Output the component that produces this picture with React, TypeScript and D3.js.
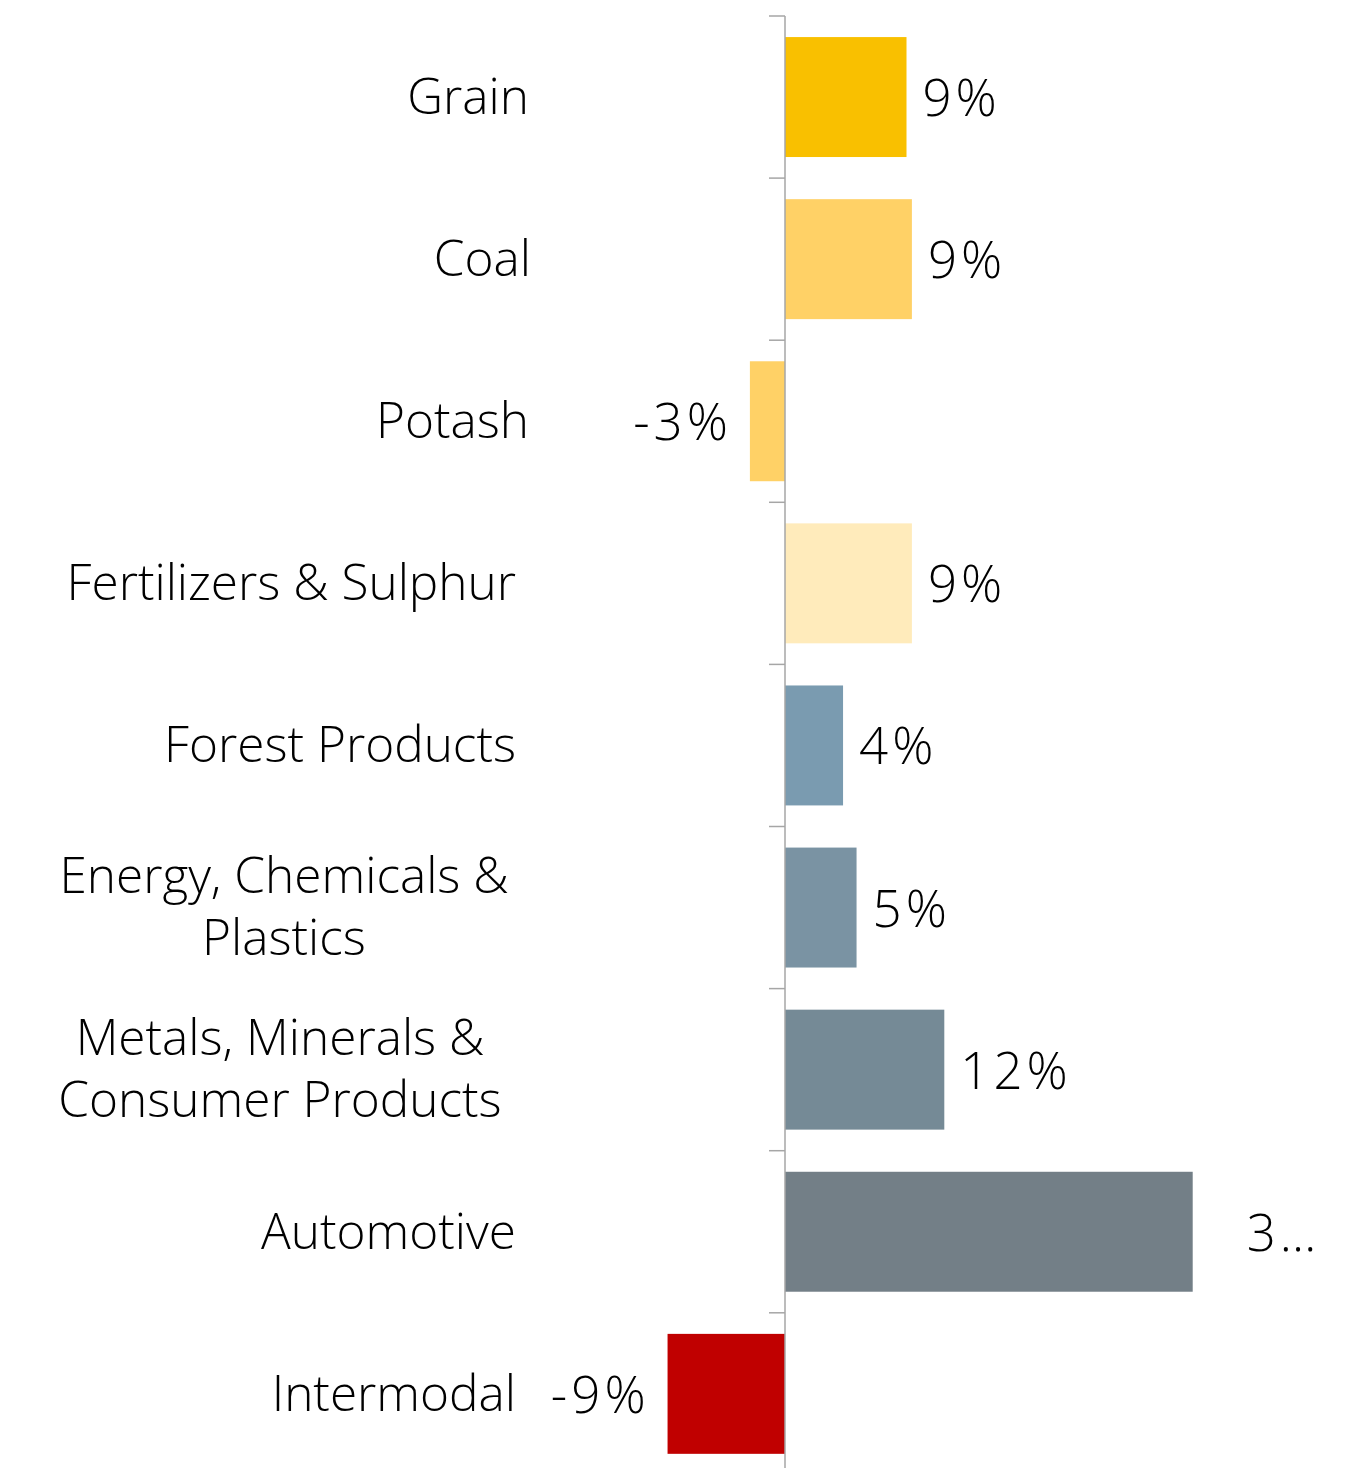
import React from "react";
import * as d3 from "d3";

const categories = [
  "Grain",
  "Coal",
  "Potash",
  "Fertilizers & Sulphur",
  "Forest Products",
  "Energy, Chemicals & Plastics",
  "Metals, Minerals & Consumer Products",
  "Automotive",
  "Intermodal",
];
const categoryLines = [
  ["Grain"],
  ["Coal"],
  ["Potash"],
  ["Fertilizers & Sulphur"],
  ["Forest Products"],
  ["Energy, Chemicals &", "Plastics"],
  ["Metals, Minerals &", "Consumer Products"],
  ["Automotive"],
  ["Intermodal"],
];
const values = [9.0, 9.4, -2.6, 9.4, 4.3, 5.3, 11.8, 30.2, -8.7];
const valueLabels = ["9%", "9%", "-3%", "9%", "4%", "5%", "12%", "3…", "-9%"];
const colors = [
  "#F9C000",
  "#FFD166",
  "#FFD166",
  "#FFEBBB",
  "#7A9BB0",
  "#7A93A3",
  "#758A96",
  "#737F87",
  "#C00000",
];

// layout only
const W = 1358;
const H = 1468;
const AXIS_X = 785;
const PX_PER_UNIT = 13.5;
const TOP = 16;
const STEP = 162.1;
const labelAnchor: { x: number; anchor: "end" | "middle" }[] = [
  { x: 529, anchor: "end" },
  { x: 531, anchor: "end" },
  { x: 529, anchor: "end" },
  { x: 516, anchor: "end" },
  { x: 516, anchor: "end" },
  { x: 284, anchor: "middle" },
  { x: 280, anchor: "middle" },
  { x: 516, anchor: "end" },
  { x: 516, anchor: "end" },
];

export default function App() {
  const x = d3
    .scaleLinear()
    .domain([-10, 35])
    .range([AXIS_X - 10 * PX_PER_UNIT, AXIS_X + 35 * PX_PER_UNIT]);
  const y = d3
    .scaleBand<string>()
    .domain(categories)
    .range([TOP, TOP + STEP * categories.length])
    .paddingInner(0.26)
    .paddingOuter(0.13);
  const step = y.step();
  const font = "'Open Sans', 'Noto Sans', sans-serif";
  const LS = 4;

  return (
    <svg
      width={W}
      height={H}
      style={{ position: "absolute", left: 0, top: 0, background: "#fff" }}
      fontFamily={font}
      fontWeight={300}
    >
      {categories.map((c, i) => {
        const v = values[i];
        const y0 = y(c)!;
        const bw = y.bandwidth();
        const cy = y0 + bw / 2;
        const x0 = x(Math.min(0, v));
        const x1 = x(Math.max(0, v));
        const overflow = v > 25;
        const lx = v >= 0 ? x1 + (overflow ? 54 : 16) : x0 - 22 + LS;
        const lines = categoryLines[i];
        const la = labelAnchor[i];
        return (
          <g key={c}>
            <rect x={x0} y={y0} width={x1 - x0} height={bw} fill={colors[i]} />
            <text
              x={lx}
              y={cy + 19}
              fontSize={51}
              fill="#000"
              textAnchor={v >= 0 ? "start" : "end"}
              letterSpacing={LS}
            >
              {valueLabels[i]}
            </text>
            {lines.length === 1 ? (
              <text x={la.x} y={cy + 17} fontSize={49.5} textAnchor={la.anchor} fill="#000">
                {lines[0]}
              </text>
            ) : (
              lines.map((ln, k) => (
                <text
                  key={k}
                  x={la.x}
                  y={cy - 15 + k * 62}
                  fontSize={49.5}
                  textAnchor={la.anchor}
                  fill="#000"
                >
                  {ln}
                </text>
              ))
            )}
          </g>
        );
      })}
      {/* axis */}
      <line x1={AXIS_X} x2={AXIS_X} y1={TOP} y2={TOP + step * categories.length} stroke="#A6A6A6" strokeWidth={1.5} />
      {d3.range(categories.length + 1).map((k) => (
        <line
          key={k}
          x1={AXIS_X - 16}
          x2={AXIS_X}
          y1={TOP + k * step}
          y2={TOP + k * step}
          stroke="#A6A6A6"
          strokeWidth={1.5}
        />
      ))}
    </svg>
  );
}
